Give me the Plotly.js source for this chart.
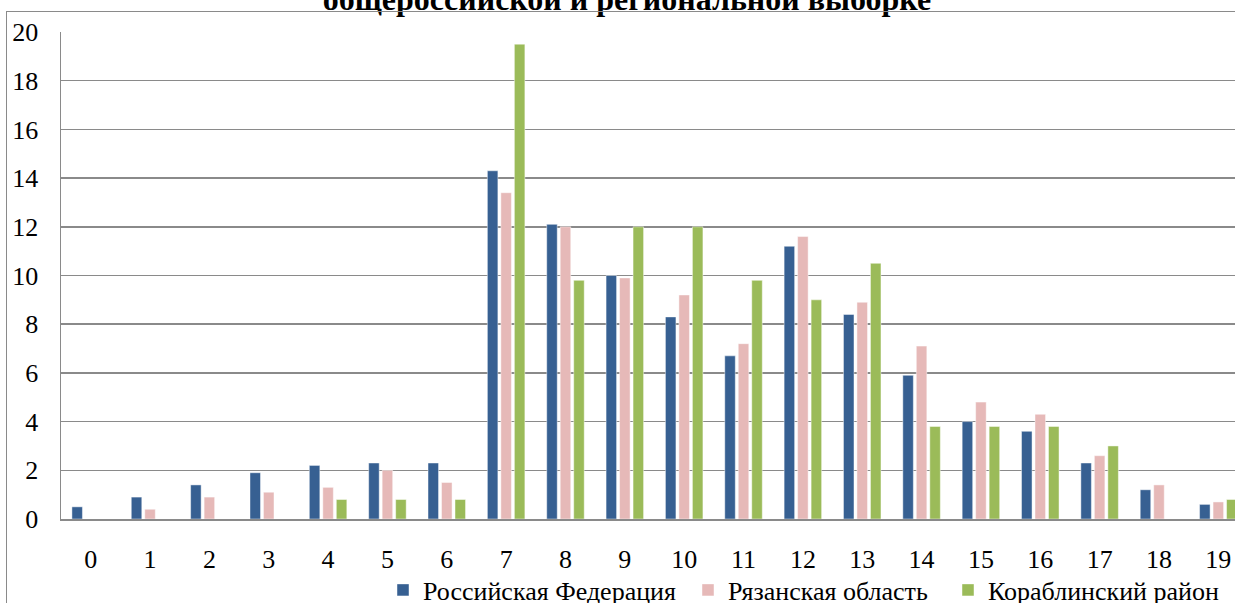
<!DOCTYPE html>
<html>
<head>
<meta charset="utf-8">
<script src="https://cdn.plot.ly/plotly-3.0.1.min.js"></script>
<style>
html,body{margin:0;padding:0;overflow:hidden;background:#fff;width:1235px;height:603px;}
#chart{position:absolute;left:0;top:0;width:1248px;height:603px;}
#frame{position:absolute;left:6px;top:11px;width:1300px;height:700px;border:1px solid #8a8a8a;pointer-events:none;}
</style>
</head>
<body>
<div id="chart"></div>
<div id="frame"></div>
<script>
var categories = ['0','1','2','3','4','5','6','7','8','9','10','11','12','13','14','15','16','17','18','19'];
var seriesNames = ['Российская Федерация', 'Рязанская область', 'Кораблинский район'];
var russia = [0.5, 0.9, 1.4, 1.9, 2.2, 2.3, 2.3, 14.3, 12.1, 10.0, 8.3, 6.7, 11.2, 8.4, 5.9, 4.0, 3.6, 2.3, 1.2, 0.6];
var ryazan = [0, 0.4, 0.9, 1.1, 1.3, 2.0, 1.5, 13.4, 12.0, 9.9, 9.2, 7.2, 11.6, 8.9, 7.1, 4.8, 4.3, 2.6, 1.4, 0.7];
var korablino = [0, 0, 0, 0, 0.8, 0.8, 0.8, 19.5, 9.8, 12.0, 12.0, 9.8, 9.0, 10.5, 3.8, 3.8, 3.8, 3.0, 0, 0.8];
var yTicks = [0, 2, 4, 6, 8, 10, 12, 14, 16, 18, 20];
var titleText = 'общероссийской и региональной выборке';

var colors = ['#376092', '#E6B9B8', '#9BBB59'];
var serif = '"Liberation Serif", "Times New Roman", serif';
var legendIds = ['legend', 'legend2', 'legend3'];
var data = [russia, ryazan, korablino].map(function(v, i){
  return {
    type: 'bar', x: categories, y: v, name: seriesNames[i], legend: legendIds[i],
    marker: {color: colors[i], line: {color: 'rgba(255,255,255,0.45)', width: 1}},
    hoverinfo: 'skip'
  };
});

var plotL = 61, plotW = 1187, plotB = 519, plotH = 487;
function legendAt(px) {
  return {orientation: 'h', x: (px - plotL)/plotW, xanchor: 'left', y: -(590 - plotB)/plotH, yanchor: 'middle',
          font: {family: serif, size: 26, color: '#000'}, bgcolor: 'rgba(0,0,0,0)'};
}

var layout = {
  width: 1248, height: 603,
  margin: {l: 61, r: 0, t: 32, b: 84, autoexpand: false},
  paper_bgcolor: 'rgba(0,0,0,0)', plot_bgcolor: 'rgba(0,0,0,0)',
  barmode: 'group', bargap: 0.318, bargroupgap: 0.22,
  title: {text: '<b>' + titleText + '</b>', x: 627/1248, xanchor: 'center', xref: 'container',
          y: 1 - 10/603, yref: 'container', yanchor: 'bottom',
          font: {family: serif, size: 32, color: '#000'}},
  xaxis: {type: 'category', showgrid: false, showline: true, linecolor: '#8a8a8a', linewidth: 1.5,
          ticks: '', ticklabelstandoff: 16, tickfont: {family: serif, size: 26, color: '#000'}},
  yaxis: {range: [0, 20], tickvals: yTicks, ticktext: yTicks.map(String), showgrid: true, gridcolor: '#8a8a8a', gridwidth: 1.5,
          showline: true, linecolor: '#8a8a8a', linewidth: 1.5, zeroline: false,
          ticks: '', ticklabelstandoff: 16, tickfont: {family: serif, size: 26, color: '#000'}},
  showlegend: true,
  legend: legendAt(383),
  legend2: legendAt(688),
  legend3: legendAt(948)
};

Plotly.newPlot('chart', data, layout, {staticPlot: true, displayModeBar: false});
</script>
</body>
</html>
